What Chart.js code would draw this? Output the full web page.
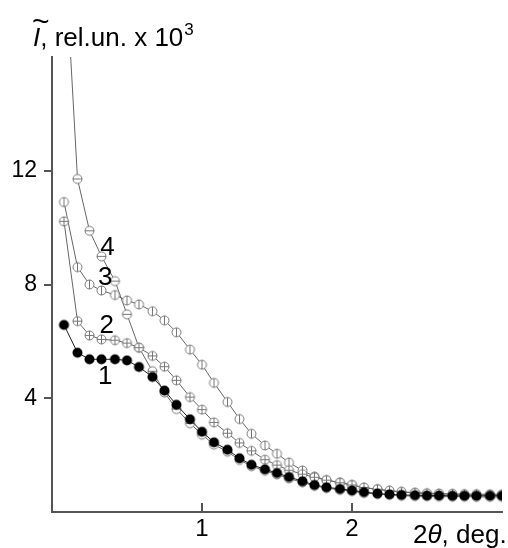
<!DOCTYPE html>
<html>
<head>
<meta charset="utf-8">
<script src="https://cdn.jsdelivr.net/npm/chart.js@4.4.1/dist/chart.umd.min.js"></script>
<style>
  body { margin: 0; background: #fff; }
  #wrap { width: 508px; height: 548px; }
</style>
</head>
<body>
<div id="wrap"><canvas id="saxsChart" width="508" height="548"></canvas></div>
<script>
// scattering angle 2θ, deg.
const angle = [0.08, 0.17, 0.25, 0.33, 0.42, 0.5, 0.58, 0.67, 0.75, 0.83, 0.92, 1.0,
  1.08, 1.17, 1.25, 1.33, 1.42, 1.5, 1.58, 1.67, 1.75, 1.83, 1.92, 2.0,
  2.08, 2.17, 2.25, 2.33, 2.42, 2.5, 2.58, 2.67, 2.75, 2.83, 2.92, 3.0];

// intensity, rel.un. x 10^3
const curve1 = [6.58, 5.60, 5.37, 5.37, 5.37, 5.33, 5.10, 4.75, 4.27, 3.77, 3.26, 2.82,
  2.45, 2.19, 1.89, 1.66, 1.50, 1.37, 1.23, 1.08, 0.95, 0.87, 0.81, 0.76,
  0.70, 0.65, 0.62, 0.60, 0.59, 0.58, 0.58, 0.57, 0.57, 0.57, 0.57, 0.57];
const curve2 = [10.22, 6.71, 6.21, 6.07, 6.04, 5.94, 5.78, 5.49, 5.11, 4.63, 4.04, 3.60,
  3.15, 2.77, 2.43, 2.15, 1.84, 1.65, 1.47, 1.33, 1.22, 1.12, 1.03, 0.95,
  0.86, 0.80, 0.75, 0.71, 0.68, 0.66, 0.65, 0.64, 0.63, 0.63, 0.62, 0.62];
const curve3 = [10.90, 8.61, 8.00, 7.79, 7.63, 7.44, 7.30, 7.06, 6.74, 6.32, 5.71, 5.18,
  4.54, 3.87, 3.27, 2.75, 2.34, 2.05, 1.74, 1.46, 1.25, 1.12, 1.04, 0.95,
  0.85, 0.80, 0.74, 0.70, 0.67, 0.65, 0.63, 0.62, 0.61, 0.60, 0.60, 0.60];
const curve4 = [20.2, 11.71, 9.89, 8.99, 8.12, 6.95, 5.78, 4.95, 4.20, 3.62, 3.12, 2.72,
  2.37, 2.12, 1.83, 1.61, 1.45, 1.32, 1.18, 1.04, 0.92, 0.84, 0.78, 0.73,
  0.67, 0.63, 0.60, 0.57, 0.56, 0.55, 0.54, 0.54, 0.54, 0.53, 0.53, 0.53];

const curveNames = ["1", "2", "3", "4"];
const xTicks = [1, 2];
const yTicks = [4, 8, 12];

const FONT = '"Liberation Sans", Arial, sans-serif';

// small canvases used as point markers
function marker(kind) {
  const c = document.createElement("canvas");
  c.width = 13;
  c.height = 13;
  const g = c.getContext("2d");
  g.beginPath();
  if (kind === "dot") {
    g.arc(6.5, 6.5, 5, 0, Math.PI * 2);
    g.fillStyle = "#000";
    g.fill();
    return c;
  }
  g.arc(6.5, 6.5, 4.5, 0, Math.PI * 2);
  g.fillStyle = "#fff";
  g.fill();
  g.strokeStyle = "#777";
  g.lineWidth = 1;
  g.stroke();
  g.beginPath();
  if (kind === "plus" || kind === "vert") {
    g.moveTo(6.5, 2);
    g.lineTo(6.5, 11);
  }
  if (kind === "plus" || kind === "horiz") {
    g.moveTo(2, 6.5);
    g.lineTo(11, 6.5);
  }
  g.stroke();
  return c;
}

const toPoints = (vals) => vals.map((v, i) => ({ x: angle[i], y: v }));

const annotations = {
  id: "annotations",
  afterDatasetsDraw(chart) {
    const { ctx, scales: { x, y } } = chart;
    ctx.save();

    // x tick marks point into the plot
    ctx.strokeStyle = "#555";
    ctx.lineWidth = 2;
    xTicks.forEach((v) => {
      const px = Math.round(x.getPixelForValue(v));
      ctx.beginPath();
      ctx.moveTo(px, y.bottom);
      ctx.lineTo(px, y.bottom - 9);
      ctx.stroke();
    });

    ctx.fillStyle = "#000";

    // curve numbers
    const spots = [[0.355, 4.75], [0.365, 6.54], [0.355, 8.23], [0.37, 9.28]];
    ctx.font = "26px " + FONT;
    ctx.textAlign = "center";
    ctx.textBaseline = "middle";
    curveNames.forEach((name, i) => {
      ctx.fillText(name, x.getPixelForValue(spots[i][0]), y.getPixelForValue(spots[i][1]));
    });

    // y title
    ctx.textAlign = "left";
    ctx.textBaseline = "alphabetic";
    ctx.font = "italic 26px " + FONT;
    ctx.fillText("I", 33, 46);
    let cx = 33 + ctx.measureText("I").width;
    ctx.font = "30px " + FONT;
    ctx.fillText("~", 32, 31);
    ctx.font = "26px " + FONT;
    ctx.fillText(", rel.un. x 10", cx, 46);
    cx += ctx.measureText(", rel.un. x 10").width;
    ctx.font = "17px " + FONT;
    ctx.fillText("3", cx + 1, 35);

    // x title
    ctx.font = "26px " + FONT;
    let tx = 413;
    ctx.fillText("2", tx, 543);
    tx += ctx.measureText("2").width;
    ctx.font = "italic 26px " + FONT;
    ctx.fillText("θ", tx, 543);
    tx += ctx.measureText("θ").width;
    ctx.font = "26px " + FONT;
    ctx.fillText(", deg.", tx, 543);

    ctx.restore();
  },
};

new Chart(document.getElementById("saxsChart"), {
  type: "line",
  data: {
    datasets: [
      { label: curveNames[0], data: toPoints(curve1), borderColor: "#222", pointStyle: marker("dot") },
      { label: curveNames[1], data: toPoints(curve2), borderColor: "#666", pointStyle: marker("plus") },
      { label: curveNames[2], data: toPoints(curve3), borderColor: "#666", pointStyle: marker("vert") },
      { label: curveNames[3], data: toPoints(curve4), borderColor: "#666", pointStyle: marker("horiz") },
    ],
  },
  options: {
    responsive: false,
    animation: false,
    layout: { padding: { top: 57, right: 0, left: 0, bottom: 0 } },
    elements: {
      line: { borderWidth: 1, tension: 0, fill: false },
      point: { radius: 5 },
    },
    plugins: { legend: { display: false }, tooltip: { enabled: false } },
    scales: {
      x: {
        type: "linear",
        min: 0,
        max: 3,
        afterBuildTicks: (s) => { s.ticks = xTicks.map((v) => ({ value: v })); },
        afterFit: (s) => { s.height = 36; },
        border: { display: true, color: "#555", width: 2 },
        grid: { drawOnChartArea: false, drawTicks: false },
        ticks: { padding: 3, color: "#000", font: { family: FONT, size: 24 } },
      },
      y: {
        min: 0,
        max: 16,
        afterBuildTicks: (s) => { s.ticks = yTicks.map((v) => ({ value: v })); },
        afterFit: (s) => { s.width = 52; },
        border: { display: true, color: "#555", width: 2 },
        grid: { drawOnChartArea: false, drawTicks: true, tickLength: 8, color: "#555", lineWidth: 2 },
        ticks: { padding: 7, color: "#000", font: { family: FONT, size: 23 } },
      },
    },
  },
  plugins: [annotations],
});
</script>
</body>
</html>
